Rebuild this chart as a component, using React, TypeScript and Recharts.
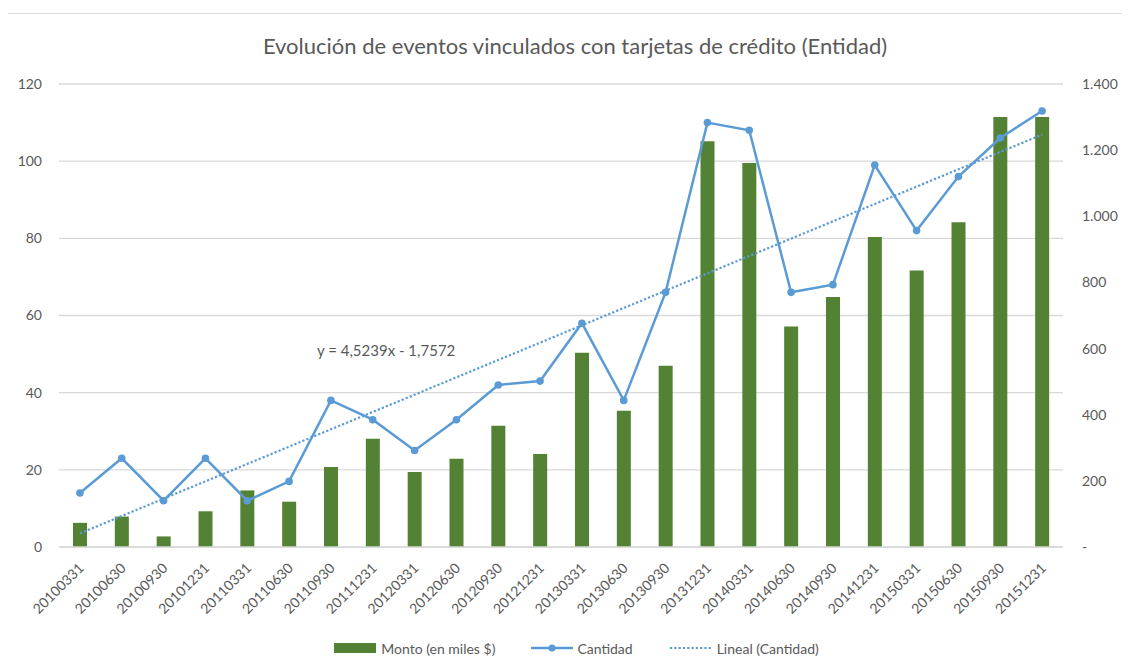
import {
  ComposedChart,
  Bar,
  Line,
  XAxis,
  YAxis,
  CartesianGrid,
  Legend,
} from "recharts";

const FONT = "Lato, 'Open Sans', sans-serif";
const TEXT = "#595959";
const GREEN = "#548235";
const BLUE = "#5B9BD5";

const fechas = [
  "20100331", "20100630", "20100930", "20101231",
  "20110331", "20110630", "20110930", "20111231",
  "20120331", "20120630", "20120930", "20121231",
  "20130331", "20130630", "20130930", "20131231",
  "20140331", "20140630", "20140930", "20141231",
  "20150331", "20150630", "20150930", "20151231",
];

// Cantidad de eventos (eje izquierdo)
const cantidad = [
  14, 23, 12, 23, 12, 17, 38, 33, 25, 33, 42, 43,
  58, 38, 66, 110, 108, 66, 68, 99, 82, 96, 106, 113,
];

// Monto en miles $ (eje derecho)
const monto = [
  73, 92, 32, 108, 171, 137, 242, 327, 227, 267, 367, 281,
  587, 412, 548, 1227, 1161, 667, 756, 937, 836, 982, 1300, 1300,
];

const leftTicks = [0, 20, 40, 60, 80, 100, 120];
const rightTicks = [0, 200, 400, 600, 800, 1000, 1200, 1400];

// tendencia lineal por minimos cuadrados sobre la serie Cantidad
const n = cantidad.length;
const xs = cantidad.map((_, i) => i + 1);
const mx = xs.reduce((a, b) => a + b, 0) / n;
const my = cantidad.reduce((a, b) => a + b, 0) / n;
const slope =
  xs.reduce((s, x, i) => s + (x - mx) * (cantidad[i] - my), 0) /
  xs.reduce((s, x) => s + (x - mx) * (x - mx), 0);
const intercept = my - slope * mx;

const data = fechas.map((fecha, i) => ({
  fecha,
  cantidad: cantidad[i],
  monto: monto[i],
  tendencia: intercept + slope * (i + 1),
}));

const fmtRight = (v: number) =>
  v === 0 ? "-" : v.toLocaleString("de-DE");

const XTick = ({ x, y, payload }: any) => {
  const px = x + 1;
  const py = y + 18;
  return (
    <text
      x={px}
      y={py}
      transform={`rotate(-45 ${px} ${py})`}
      textAnchor="end"
      dominantBaseline="central"
      fill={TEXT}
      fontSize={14}
      fontFamily={FONT}
    >
      {payload.value}
    </text>
  );
};

const renderLegend = () => (
  <div
    style={{
      display: "flex",
      justifyContent: "center",
      alignItems: "center",
      gap: 36,
      height: 20,
      paddingLeft: 22,
      fontFamily: FONT,
      fontSize: 14,
      color: TEXT,
    }}
  >
    <span style={{ display: "flex", alignItems: "center" }}>
      <span
        style={{ width: 42, height: 10, background: GREEN, marginRight: 5 }}
      />
      Monto (en miles $)
    </span>
    <span style={{ display: "flex", alignItems: "center" }}>
      <svg width={42} height={10} style={{ marginRight: 4 }}>
        <line x1={0} y1={5} x2={42} y2={5} stroke={BLUE} strokeWidth={2.5} />
        <circle cx={21} cy={5} r={3.5} fill={BLUE} />
      </svg>
      Cantidad
    </span>
    <span style={{ display: "flex", alignItems: "center" }}>
      <svg width={44} height={10} style={{ marginRight: 4 }}>
        <line
          x1={1}
          y1={5}
          x2={44}
          y2={5}
          stroke={BLUE}
          strokeWidth={2.2}
          strokeDasharray="2.2 2.1"
        />
      </svg>
      Lineal (Cantidad)
    </span>
  </div>
);

export default function App() {
  return (
    <div
      style={{
        position: "relative",
        left: -1,
        top: 5,
        width: 1122,
        height: 654,
        borderLeft: "1px solid #d9d9d9",
        borderTop: "1px solid #d9d9d9",
        background: "#fff",
      }}
    >
      <div
        style={{
          position: "absolute",
          top: 19,
          left: 0,
          width: 1134,
          textAlign: "center",
          fontFamily: FONT,
          fontSize: 22,
          lineHeight: "26px",
          color: TEXT,
        }}
      >
        Evolución de eventos vinculados con tarjetas de crédito (Entidad)
      </div>
      <div
        style={{
          position: "absolute",
          top: 327,
          left: 309,
          fontFamily: FONT,
          fontSize: 15,
          lineHeight: "18px",
          color: TEXT,
          whiteSpace: "nowrap",
        }}
      >
        y = 4,5239x - 1,7572
      </div>
      <ComposedChart
        width={1122}
        height={654}
        data={data}
        margin={{ top: 70, right: 7, bottom: 10, left: 0 }}
      >
        <CartesianGrid
          yAxisId="left"
          vertical={false}
          stroke="#d9d9d9"
          strokeWidth={1.3}
        />
        <XAxis
          dataKey="fecha"
          interval={0}
          height={91}
          tickLine={false}
          tickSize={0}
          tickMargin={0}
          axisLine={{ stroke: "#d9d9d9", strokeWidth: 1.3 }}
          tick={<XTick />}
        />
        <YAxis
          yAxisId="left"
          domain={[0, 120]}
          ticks={leftTicks}
          width={51}
          axisLine={false}
          tickLine={false}
          tickSize={0}
          tickMargin={17}
          tick={{ fill: TEXT, fontSize: 14, fontFamily: FONT }}
        />
        <YAxis
          yAxisId="right"
          orientation="right"
          domain={[0, 1400]}
          ticks={rightTicks}
          width={60}
          axisLine={false}
          tickLine={false}
          tickSize={0}
          tickMargin={19}
          tickFormatter={fmtRight}
          tick={{ fill: TEXT, fontSize: 14, fontFamily: FONT }}
        />
        <Bar
          yAxisId="right"
          dataKey="monto"
          name="Monto (en miles $)"
          fill={GREEN}
          barSize={14}
          isAnimationActive={false}
        />
        <Line
          yAxisId="left"
          type="linear"
          dataKey="cantidad"
          name="Cantidad"
          stroke={BLUE}
          strokeWidth={2.5}
          dot={{ r: 3.8, fill: BLUE, stroke: BLUE, strokeWidth: 0 }}
          activeDot={false}
          isAnimationActive={false}
        />
        <Line
          yAxisId="left"
          type="linear"
          dataKey="tendencia"
          name="Lineal (Cantidad)"
          stroke={BLUE}
          strokeWidth={2.2}
          strokeDasharray="2.2 2.1"
          dot={false}
          activeDot={false}
          isAnimationActive={false}
        />
        <Legend verticalAlign="bottom" content={renderLegend} />
      </ComposedChart>
    </div>
  );
}
